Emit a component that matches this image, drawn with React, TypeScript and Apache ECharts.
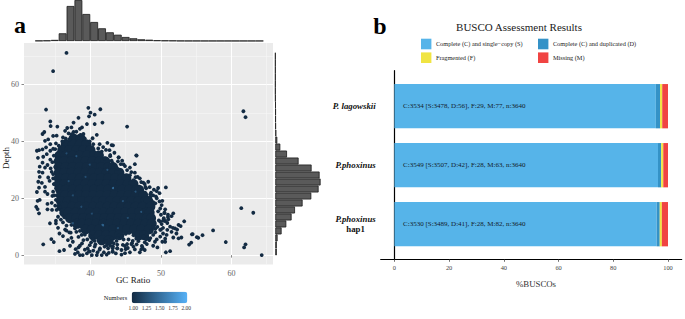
import React, { useEffect, useRef } from "react";
import * as echarts from "echarts";

const FONT = "'Liberation Serif', serif";

// Dense middle of the GC/depth cloud: [depth, GC values]
const coreRows: [number, number[]][] = [
  [41, [37.6, 38.6]],
  [39, [36.5, 37.5, 38.5, 39.4]],
  [37, [36, 37, 38, 39, 40]],
  [35, [35.6, 36.5, 37.5, 38.5, 39.5, 40.5, 41.2]],
  [33, [35.5, 36.3, 37.3, 38.3, 39.3, 40.3, 41.3, 42.1]],
  [31, [35.5, 36.5, 37.5, 38.5, 39.5, 40.5, 41.5, 42.5, 43.2]],
  [29, [35.5, 36.3, 37.3, 38.3, 39.3, 40.3, 41.3, 42.3, 43.3, 44.1]],
  [27, [35.5, 36.5, 37.5, 38.5, 39.5, 40.5, 41.5, 42.5, 43.5, 44.5, 45.1]],
  [25, [35.5, 36.3, 37.3, 38.3, 39.3, 40.3, 41.3, 42.3, 43.3, 44.3, 45.3, 46.1]],
  [23, [35.7, 36.5, 37.5, 38.5, 39.5, 40.5, 41.5, 42.5, 43.5, 44.5, 45.5, 46.5, 46.9]],
  [21, [35.8, 36.4, 37.4, 38.4, 39.4, 40.4, 41.4, 42.4, 43.4, 44.4, 45.4, 46.4, 47.5]],
  [19, [35.8, 36.8, 37.8, 38.8, 39.8, 40.8, 41.8, 42.8, 43.8, 44.8, 45.8, 46.8, 47.8, 48.2]],
  [17, [35.9, 36.4, 37.4, 38.4, 39.4, 40.4, 41.4, 42.4, 43.4, 44.4, 45.4, 46.4, 47.4, 48.5]],
  [15, [36.3, 36.9, 37.9, 38.9, 39.9, 40.9, 41.9, 42.9, 43.9, 44.9, 45.9, 46.9, 47.9, 48.4]],
  [13, [37.1, 38, 39, 40, 41, 42, 43, 44, 45, 46, 47, 48, 48.6]],
  [11, [38.1, 38.8, 39.8, 40.8, 41.8, 42.8, 43.8, 44.8, 45.8, 46.8, 47.8, 48.7]],
  [9, [39.3, 40.2, 41.2, 42.2, 43.2, 44.2, 45.2, 46.2, 47.2, 48.3]],
  [7, [40.4, 41.2, 42.2, 43.2, 44.1, 46.9, 47.6]],
  [5.2, [41.6, 42.6]],
];

// Loose points around the cloud: GC ratio and depth, pair by pair
const fringeGc = [
  36.6, 34.7, 33.7, 39.7, 41.4, 40, 40.6, 39.8, 38.3, 61.7, 62, 45.2, 46.5, 61.4, 63.1, 57.4, 59.2, 62, 61.8, 64.3,
  55.9, 55.1, 54.4, 54, 53.3, 50.7,
  34.3, 34.35, 35.3, 36.7, 37.3, 37.6, 38.5, 38.8, 39.5, 40.6, 41.7, 33.45, 33.2, 40.9, 34.7, 35.2, 36.1, 36.4, 36.9,
  37.6, 39, 33.55, 34, 35.1, 34.3, 33.7, 32.4, 32.7, 33.2, 34.3, 34.7, 32.55, 33.3, 33.8, 34.3, 33.2, 32.8, 33.55,
  33.9, 34.35, 32.7, 33.2, 34, 34.2, 32.8, 32.6, 33.1, 33.55, 32.7, 34.7, 34.5, 40.4, 41.1, 42.4, 43, 41.6, 42.7, 42.8,
  42, 43.1, 44, 43.8, 43.2,
  32.4, 33.55, 33.9, 34.7, 34.6, 32.5, 32.8, 32.3, 32.5, 32.7, 33.9, 34.5, 35.1, 33.9, 34.55, 35.2, 35.1, 34.25, 35.4,
  35.9, 35.1, 35.4, 36.4, 37.3, 33.3, 34.45, 34.8, 35.6, 36.1, 36.8, 37.3, 37.5, 35.6, 36.25, 37.9, 38.3, 38.2, 38.5,
  38.9, 39.5, 39.6, 38.8, 39, 39.9, 40.6, 41.35, 40.2, 40.9, 41.6, 42.3, 43.15, 42.5, 43.8, 43.2, 38, 38.75, 39.55,
  43.2, 46.55, 44, 44.5, 46.3, 45.6, 44.3, 44.9, 46.3, 46.7, 47, 47.5, 48.2, 49.6, 45.6, 46.1, 43, 42.8,
  49.4, 50.2, 49.9, 50.6, 51.75, 51.5, 50.1, 51.05, 52.5, 52.8, 52, 51.5, 52.2, 52.9, 52.5, 51.75, 50.8, 51.3, 54.5,
  55.3, 54.3, 50.6, 50.2, 51.3, 50.7, 49.5, 48.9, 48.35, 49.15, 47.7, 47, 45.6, 44.4, 44.4, 43.8, 43.15, 43.15, 43.3,
  46.1, 46.55, 47.3, 47.7, 44.7, 45.4, 47.5, 48.9, 49.9, 50.3, 46.1, 44.4,
  49.3, 49.8, 50, 50.4, 48.9, 49.4, 49.7, 50.1, 50.6, 49.2, 48.6, 49.9, 47.9, 48.5, 50.5, 51, 45.2, 45.9, 46.8, 47.4,
  42.3, 41.8, 43.7, 44.6, 45, 47.6, 48, 44.9, 45.5, 48.1, 46.5, 47, 37.8, 38.5, 37.2, 36.6, 39.2, 39.8, 40.3, 38.3, 37.1,
  48.9, 49.2, 49.6, 50.3, 50.9, 49.9, 49.5, 50.3, 50.9, 51.7, 52.3, 51, 50.5, 49.8, 49, 48.4, 47.7, 48.5, 50, 48.9, 49.2,
  50.6, 49.4, 48.5, 47.9, 46.8, 46, 45, 44, 43, 42.2, 41.5, 40.6, 40, 39.2, 38.5, 37.8, 37, 36.6, 36.1, 35.8, 36.3, 35.7,
  35, 34.9, 35.1, 34.8, 34.7, 35, 34.6, 34.8, 35, 35.5, 36, 36.5, 37, 37.3, 38, 38.6, 39.2, 39.9, 40.3, 41.3, 41.8, 42.2,
  43.4, 43.9, 44.7, 45.2, 45.8, 46.4, 47.2, 47.8, 48.6,
  41, 41.3, 41.9, 42.6, 43.6, 40.4, 39.9, 40.7, 42, 42.8, 43.8, 44.9, 45.3, 45.8, 46.3, 47.2, 40.1,
];
const fringeDepth = [
  71.1, 64.7, 51.2, 51.8, 51.3, 50.1, 49.4, 48.8, 48.3, 50.6, 48.5, 45.2, 35.1, 16.5, 14.9, 8.7, 4.6, 3.8, 2.7, 0,
  7, 6.3, 7.3, 3.7, 11.9, 23.8,
  47, 45.4, 45.2, 44.7, 44.9, 46.6, 44.4, 44.9, 46.1, 46.1, 46.6, 43.3, 42.6, 42.3, 41.9, 42, 41.4, 43.7, 42.8,
  43.3, 42.6, 40.2, 40.7, 39.3, 39, 37.9, 36.7, 36.9, 37.2, 36.7, 37.4, 34.2, 34.6, 35.5, 33.6, 32.5, 31.1, 30.8,
  31.7, 30.5, 29.3, 29, 27.3, 26.1, 27.5, 25.8, 25.4, 24, 23.7, 27, 29.3, 39, 37.5, 39.5, 38.7, 36.4, 36.9, 34.8,
  34, 32.5, 34.4, 30.5, 31.1,
  22.2, 22.3, 21.5, 22.3, 20.8, 19.1, 19.4, 17, 16.2, 14.7, 18, 18.4, 19.4, 16.1, 15.9, 15.9, 12.1, 11.2, 13.5,
  14.7, 11.2, 9.6, 9, 10.6, 3.8, 5.6, 4.6, 7.6, 6.7, 5.3, 6.1, 4.7, 1.4, 1.8, 2.1, 2.7, 1, 0,
  0, 0.6, 2.4, 4.1, 5.3, 3.5, 3, 2.4, 0, 0, 0, 0.2, 1.2, 2.4, 2.4, 3, 8.2, 7.1, 5.5,
  38.6, 35, 34.4, 33.2, 32, 30.8, 32, 31.3, 29, 27.5, 27, 25.5, 25.8, 23.6, 28.1, 26.4, 33.2, 35.2,
  22.5, 19.1, 16.4, 16.1, 14.7, 13.7, 17.6, 12.6, 10.6, 10.2, 9.4, 8.2, 7.6, 6.2, 5.9, 6.2, 7.1, 10, 7.4,
  6.1, 4.4, 4.7, 4.7, 1.4, 1, 2.7, 3.3, 5.3, 4.7, 1.8, 1, 1, 0.2, 1.8, 2.4, 2.4, 1.2, 4.1,
  3, 3.8, 3.2, 4.5, 5.5, 5.5, 6.5, 7.1, 6.5, 7.6, 7, 6.5,
  20.6, 21.8, 14.2, 13, 18.6, 20, 12.2, 10.9, 12, 9.2, 8.4, 8.9, 23.5, 21.4, 14.8, 13.4, 3.9, 4.2, 4.9, 2.6,
  3.4, 4.5, 5, 3.6, 2.1, 8, 3.9, 0.7, 7.8, 6.2, 5.8, 5.9, 0.4, 3.3, 7.9, 8.6, 1.9, 1.4, 5.6, 6.4, 3.3,
  21, 18.2, 15.4, 12.1, 11.3, 11.8, 9.9, 9.6, 8.9, 9.6, 9, 14.2, 14.9, 18.9, 23, 23.9, 25, 20.4, 9, 9.8, 8,
  5.8, 5.5, 6, 5.5, 5.9, 5, 7.5, 7, 6, 4.8, 4.5, 5, 6.5, 7.2, 8.5, 9.4, 8, 10.4, 11.5, 12.5, 13.3, 17,
  17.4, 21, 23.5, 25, 28.5, 31, 32.7, 35, 37.3, 38.5, 40, 41, 40.7, 42.5, 43.4, 42.3, 41, 40, 41.1, 39, 38, 37,
  36, 33, 31.9, 29.9, 29.2, 27.4, 25.7, 24, 22,
  1, 1.9, 1, 0.8, 0.6, 1.6, 1.2, 3.8, 3, 3.3, 3.7, 3.2, 2.5, 3.9, 2, 2, 4.5,
];

// Points with a count above one (lighter specks inside the cloud)
const speckGc = [41.7, 37.5, 36.6, 38, 43.2, 41.8, 37.5, 39.3, 42.4, 44.6, 40.2, 38.7, 45.3, 46.4, 36.9, 43.9, 47.2, 39.9];
const speckDepth = [10.6, 11.2, 35.8, 34.8, 23.6, 10.5, 21, 27.5, 30, 19, 14.6, 17, 13.1, 22.3, 26, 9.5, 15.2, 31.8];
const speckCount = [1.4, 1.3, 1.25, 1.3, 1.5, 1.4, 1.25, 1.25, 1.25, 1.3, 1.25, 1.25, 1.25, 1.3, 1.25, 1.25, 1.3, 1.25];

const gcBins = [
  "32.2", "33.3", "34.4", "35.5", "36.6", "37.7", "38.9", "40", "41.1", "42.2", "43.3", "44.4", "45.5", "46.6", "47.7",
  "48.8", "49.9", "51", "52.1", "53.3", "54.4", "55.5", "56.6", "57.7", "58.8", "59.9", "61", "62.1", "63.2",
];
const gcCounts = [
  6, 10, 22, 154, 700, 820, 540, 380, 254, 174, 126, 80, 54, 34, 26, 14, 10, 8, 4, 3, 3, 2, 2, 2, 2, 2, 2, 2, 2,
];
const depthBins = [
  "1", "3.5", "6", "8.4", "10.9", "13.3", "15.8", "18.3", "20.7", "23.2", "25.6", "28.1", "30.6", "33", "35.5",
  "37.9", "40.4", "42.9", "45.3", "47.8", "50.2", "52.7", "55.2", "57.6", "60.1", "62.5", "65", "67.5", "69.9",
];
const depthCounts = [
  15, 15, 23, 63, 110, 163, 197, 273, 360, 433, 453, 443, 363, 233, 117, 50, 20, 10, 6, 5, 5, 4, 2, 1, 1, 1, 1, 1, 1,
];

const gcTicks = [40, 50, 60];
const gcMinor = [35, 45, 55, 65];
const depthTicks = [0, 20, 40, 60];
const depthMinor = [10, 30, 50, 70];
const numberTicks = ["1.00", "1.25", "1.50", "1.75", "2.00"];

const assemblies = ["P. lagowskii", "P.phoxinus", "P.phoxinus\nhap1"];
const single = [3478, 3507, 3489];
const duplicated = [56, 42, 41];
const fragmented = [29, 28, 28];
const missing = [77, 63, 82];
const total = 3640;
const buscoText = [
  "C:3534 [S:3478, D:56], F:29, M:77, n:3640",
  "C:3549 [S:3507, D:42], F:28, M:63, n:3640",
  "C:3530 [S:3489, D:41], F:28, M:82, n:3640",
];
const buscoTicks = [0, 20, 40, 60, 80, 100];
const buscoNames = [
  "Complete (C) and single\u2212copy (S)",
  "Complete (C) and duplicated (D)",
  "Fragmented (F)",
  "Missing (M)",
];
const buscoColors = ["#56B4E9", "#3492C7", "#F0E442", "#F04442"];

const pct = (a: number[]) => a.map((v) => (v / total) * 100);

const plainAxis = { show: false };
const panel = { left: 24, top: 43, width: 249, height: 221.5 };
const gcRange = { min: 30.57, max: 65.9 };
const depthRange = { min: -3.3, max: 74.6 };

function buildOption(): any {
  const coreData = coreRows.flatMap(([d, gcs]) => gcs.map((g) => [g, d, 1]));
  const fringeData = fringeGc.map((g, i) => [g, fringeDepth[i], 1]);
  const speckData = speckGc.map((g, i) => [g, speckDepth[i], speckCount[i]]);

  const histStyle = { color: "#5a5a5a", borderColor: "#1c1c1c", borderWidth: 0.8 };
  const txt = (x: number, y: number, text: string, size: number, extra: any = {}) => ({
    type: "text",
    x,
    y,
    silent: true,
    style: {
      text,
      font: `${extra.weight || "normal"} ${size}px ${FONT}`,
      fill: extra.fill || "#1a1a1a",
      align: extra.align || "center",
      verticalAlign: "middle",
    },
    rotation: extra.rotation || 0,
  });

  return {
    animation: false,
    backgroundColor: "#fff",
    textStyle: { fontFamily: FONT },
    grid: [
      { ...panel, show: true, backgroundColor: "#EBEBEB", borderWidth: 0 },
      { ...panel },
      { left: 35.1, top: 0, width: 228.3, height: 41 },
      { left: 275.3, top: 52.7, width: 50, height: 202.7 },
      { left: 380.7, top: 76.7, width: 301, height: 177 },
      { left: 380.7, top: 70.7, width: 301, height: 188.6 },
    ],
    xAxis: [
      {
        gridIndex: 0,
        type: "value",
        ...gcRange,
        axisLine: { show: false },
        axisLabel: { show: false, customValues: gcMinor },
        axisTick: { show: false, customValues: gcMinor },
        splitLine: { show: true, lineStyle: { color: "#F6F6F6", width: 0.6 } },
      },
      {
        gridIndex: 1,
        type: "value",
        ...gcRange,
        axisLine: { show: false },
        axisLabel: { customValues: gcTicks, color: "#666", fontSize: 8, margin: 5, fontFamily: FONT },
        axisTick: { customValues: gcTicks, length: 2.5, lineStyle: { color: "#555", width: 0.7 } },
        splitLine: { show: true, lineStyle: { color: "#fff", width: 1 } },
      },
      { gridIndex: 2, type: "category", data: gcBins, ...plainAxis },
      { gridIndex: 3, type: "value", min: 0, max: 50, ...plainAxis },
      { gridIndex: 4, type: "value", min: -5, max: 105, ...plainAxis },
      {
        gridIndex: 5,
        type: "value",
        min: -5,
        max: 105,
        splitLine: { show: false },
        axisLine: { show: true, lineStyle: { color: "#000", width: 1.2 } },
        axisLabel: { customValues: buscoTicks, color: "#444", fontSize: 6.4, margin: 5, fontFamily: FONT },
        axisTick: { customValues: buscoTicks, length: 2.5, lineStyle: { color: "#333", width: 0.7 } },
      },
    ],
    yAxis: [
      {
        gridIndex: 0,
        type: "value",
        ...depthRange,
        axisLine: { show: false },
        axisLabel: { show: false, customValues: depthMinor },
        axisTick: { show: false, customValues: depthMinor },
        splitLine: { show: true, lineStyle: { color: "#F6F6F6", width: 0.6 } },
      },
      {
        gridIndex: 1,
        type: "value",
        ...depthRange,
        axisLine: { show: false },
        axisLabel: { customValues: depthTicks, color: "#666", fontSize: 8, margin: 5, fontFamily: FONT },
        axisTick: { customValues: depthTicks, length: 2.5, lineStyle: { color: "#555", width: 0.7 } },
        splitLine: { show: true, lineStyle: { color: "#fff", width: 1 } },
      },
      { gridIndex: 2, type: "value", min: 0, max: 820, ...plainAxis },
      { gridIndex: 3, type: "category", data: depthBins, ...plainAxis },
      {
        gridIndex: 4,
        type: "category",
        inverse: true,
        data: assemblies,
        axisLine: { show: false },
        axisTick: { show: false },
        axisLabel: {
          margin: 5,
          interval: 0,
          formatter: (v: string) => {
            const parts = v.split("\n");
            return parts.length > 1 ? `{i|${parts[0]}}\n{b|${parts[1]}}` : `{i|${v}}`;
          },
          rich: {
            i: { fontStyle: "italic", fontWeight: "bold", fontSize: 8.8, color: "#111", fontFamily: FONT, lineHeight: 10 },
            b: { fontWeight: "bold", fontSize: 8.8, color: "#111", fontFamily: FONT, lineHeight: 10, align: "center" },
          },
        },
      },
      {
        gridIndex: 5,
        type: "value",
        min: 0,
        max: 1,
        splitLine: { show: false },
        axisTick: { show: false },
        axisLabel: { show: false },
        axisLine: { show: true, lineStyle: { color: "#000", width: 1.2 } },
      },
    ],
    visualMap: {
      type: "continuous",
      show: true,
      min: 1,
      max: 2,
      dimension: 2,
      seriesIndex: [0, 1, 2],
      orient: "horizontal",
      left: 131.7,
      top: 291.7,
      itemWidth: 11.6,
      itemHeight: 55.6,
      padding: 0,
      text: null,
      calculable: false,
      showLabel: false,
      inRange: { color: ["#132B43", "#56B1F7"] },
      hoverLink: false,
    },
    legend: buscoNames.map((name, i) => ({
      data: [name],
      left: i % 2 === 0 ? 421 : 538,
      top: i < 2 ? 38.7 : 52.4,
      padding: 0,
      itemWidth: 10.4,
      itemHeight: 10.6,
      icon: "rect",
      selectedMode: false,
      textStyle: { fontFamily: FONT, fontSize: 6.3, color: "#222", padding: [0, 0, 0, -0.5] },
    })),
    series: [
      {
        type: "scatter",
        xAxisIndex: 1,
        yAxisIndex: 1,
        symbolSize: 10,
        data: coreData,
        itemStyle: { opacity: 1 },
        silent: true,
      },
      {
        type: "scatter",
        xAxisIndex: 1,
        yAxisIndex: 1,
        symbolSize: 3.8,
        data: fringeData,
        itemStyle: { opacity: 1 },
        silent: true,
      },
      {
        type: "scatter",
        xAxisIndex: 1,
        yAxisIndex: 1,
        symbolSize: 2,
        data: speckData,
        itemStyle: { opacity: 1 },
        silent: true,
      },
      {
        type: "bar",
        xAxisIndex: 2,
        yAxisIndex: 2,
        data: gcCounts,
        barWidth: "100%",
        itemStyle: histStyle,
        silent: true,
      },
      {
        type: "bar",
        xAxisIndex: 3,
        yAxisIndex: 3,
        data: depthCounts.map((v) => v / 10),
        barWidth: "100%",
        itemStyle: histStyle,
        silent: true,
      },
      ...[single, duplicated, fragmented, missing].map((vals, i) => ({
        type: "bar",
        name: buscoNames[i],
        xAxisIndex: 4,
        yAxisIndex: 4,
        stack: "busco",
        barWidth: 44.3,
        data: pct(vals),
        itemStyle: { color: buscoColors[i] },
        silent: true,
        label:
          i === 0
            ? {
                show: true,
                position: "insideLeft",
                distance: 8.7,
                formatter: (p: any) => buscoText[p.dataIndex],
                fontFamily: FONT,
                fontSize: 7,
                color: "#14212b",
              }
            : { show: false },
      })),
    ],
    graphic: [
      txt(20, 25, "a", 24, { weight: "bold", fill: "#000" }),
      txt(380, 26, "b", 24, { weight: "bold", fill: "#000" }),
      txt(133, 279.5, "GC Ratio", 9),
      txt(6, 158, "Depth", 9, { rotation: Math.PI / 2 }),
      txt(115.5, 297, "Numbers", 6.4),
      ...numberTicks.map((t, i) => txt(133.2 + i * 13.25, 307.8, t, 5.5, { fill: "#333" })),
      ...numberTicks.map((_, i) => ({
        type: "line",
        silent: true,
        shape: { x1: 132 + i * 13.75, y1: 291.8, x2: 132 + i * 13.75, y2: 294 },
        style: { stroke: "#fff", lineWidth: 0.5 },
      })),
      ...numberTicks.map((_, i) => ({
        type: "line",
        silent: true,
        shape: { x1: 132 + i * 13.75, y1: 301, x2: 132 + i * 13.75, y2: 303.3 },
        style: { stroke: "#fff", lineWidth: 0.5 },
      })),
      txt(519, 27, "BUSCO Assessment Results", 11),
      txt(536, 283.7, "%BUSCOs", 8.8, { fill: "#333" }),
    ],
  };
}

export default function App() {
  const ref = useRef<HTMLDivElement | null>(null);
  useEffect(() => {
    document.body.style.margin = "0";
    const chart = echarts.init(ref.current!, undefined, { renderer: "svg" });
    chart.setOption(buildOption());
    return () => chart.dispose();
  }, []);
  return <div ref={ref} style={{ width: 685, height: 319, background: "#fff" }} />;
}
